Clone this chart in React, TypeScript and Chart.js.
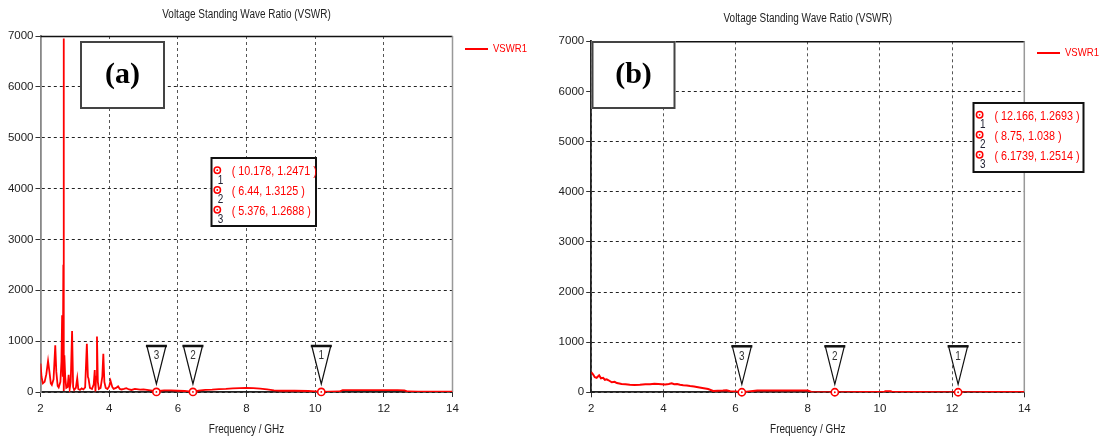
import React, { useEffect, useRef } from "react";
import { Chart, registerables } from "chart.js";

Chart.register(...registerables);

// ---------- data ----------
const TITLE = "Voltage Standing Wave Ratio (VSWR)";
const X_TITLE = "Frequency / GHz";
const SERIES = "VSWR1";
const xTicks = [2, 4, 6, 8, 10, 12, 14];
const yTicks = [0, 1000, 2000, 3000, 4000, 5000, 6000, 7000];

const freqA = [
  2.0, 2.03, 2.07, 2.12, 2.17, 2.22, 2.26, 2.3, 2.33, 2.38, 2.43, 2.46, 2.5, 2.53, 2.58, 2.61, 2.63, 2.65,
  2.665, 2.675, 2.68, 2.695, 2.72, 2.75, 2.79, 2.82, 2.85, 2.88, 2.92, 2.95, 2.98, 3.03, 3.07, 3.1, 3.15,
  3.2, 3.25, 3.3, 3.35, 3.38, 3.4, 3.44, 3.5, 3.55, 3.58, 3.6, 3.62, 3.645, 3.67, 3.7, 3.75, 3.8, 3.83,
  3.86, 3.9, 3.95, 4.0, 4.04, 4.09, 4.13, 4.2, 4.26, 4.31, 4.36, 4.43, 4.5, 4.58, 4.65, 4.75, 4.9, 5.0,
  5.1, 5.2, 5.3, 5.376, 5.45, 5.6, 5.8, 6.0, 6.2, 6.44, 6.6, 6.8, 7.0, 7.2, 7.4, 7.6, 7.8, 8.0, 8.2, 8.4,
  8.6, 8.8, 9.0, 9.4, 9.8, 10.0, 10.178, 10.4, 10.7, 10.8, 11.2, 11.6, 12.0, 12.4, 12.6, 12.7, 13.0, 13.5, 14.0,
];
const vswrA = [
  560, 300, 170, 200, 350, 610, 400, 170, 140, 250, 920, 400, 120, 90, 200, 600, 1510, 300,
  2500, 6950, 20, 720, 300, 80, 100, 340, 60, 200, 1200, 100, 40, 80, 270, 60, 40,
  70, 50, 90, 950, 300, 260, 80, 60, 150, 430, 10, 300, 1090, 200, 60, 80, 300, 750,
  200, 80, 60, 110, 220, 100, 60, 80, 110, 60, 50, 60, 75, 50, 40, 60, 45, 50,
  40, 30, 20, 1.2688, 20, 30, 30, 25, 20, 1.3125, 25, 40, 45, 55, 60, 70, 75, 80, 75, 65,
  50, 30, 25, 25, 20, 10, 1.2471, 8, 10, 35, 35, 35, 35, 35, 30, 10, 8, 8, 8,
];
const markerFreqA = [10.178, 6.44, 5.376];
const markerValA = [1.2471, 1.3125, 1.2688];

const freqB = [
  2.0, 2.05, 2.1, 2.15, 2.22, 2.27, 2.33, 2.38, 2.43, 2.48, 2.57, 2.65, 2.71, 2.78, 2.84, 2.95, 3.07, 3.2,
  3.35, 3.5, 3.63, 3.75, 3.86, 3.95, 4.05, 4.15, 4.23, 4.3, 4.38, 4.46, 4.55, 4.65, 4.74, 4.85, 5.0, 5.12,
  5.24, 5.38, 5.5, 5.65, 5.75, 5.85, 6.0, 6.1739, 6.3, 6.6, 7.0, 7.5, 8.0, 8.1, 8.75, 9.5, 10.1, 10.15,
  10.3, 10.35, 11.0, 12.166, 13.0, 14.0,
];
const vswrB = [
  400, 360, 300, 290, 340, 280, 290, 250, 260, 240, 200, 210, 185, 175, 165, 160, 150, 145,
  150, 160, 160, 170, 165, 160, 155, 165, 180, 160, 165, 150, 140, 135, 125, 115, 95, 80,
  65, 25, 30, 35, 40, 20, 15, 1.2514, 10, 35, 35, 35, 35, 8, 1.038, 5, 5, 20,
  20, 5, 5, 1.2693, 5, 5,
];
const markerFreqB = [12.166, 8.75, 6.1739];
const markerValB = [1.2693, 1.038, 1.2514];

// ---------- layout ----------
const H = 440;
const FONT = "'Liberation Sans', Arial, sans-serif";
const SX = 0.83; // horizontal condensing for overlay text (narrow UI font look)

type Cfg = {
  offsetX: number; width: number;
  left: number; top: number; right: number; bottom: number;
  freq: number[]; vswr: number[]; mf: number[]; mv: number[];
  tag: string; tagBox: number[];
  tableBox: number[]; rowY0: number; rowGap: number; circleX: number; textX: number;
  legendX: number; legendY: number; titleY: number;
  leftAxisColor: string; lineWidth: number;
};

const cfgA: Cfg = {
  offsetX: 0, width: 550,
  left: 40.5, top: 36, right: 452.5, bottom: 392,
  freq: freqA, vswr: vswrA, mf: markerFreqA, mv: markerValA,
  tag: "(a)", tagBox: [80, 41, 85, 68],
  tableBox: [210.5, 157, 106.5, 70], rowY0: 171.7, rowGap: 19.8, circleX: 217.3, textX: 231.7,
  legendX: 465, legendY: 49, titleY: 15,
  leftAxisColor: "#888", lineWidth: 1.8,
};

const cfgB: Cfg = {
  offsetX: 550, width: 557,
  left: 41.2, top: 41.3, right: 474.3, bottom: 392.3,
  freq: freqB, vswr: vswrB, mf: markerFreqB, mv: markerValB,
  tag: "(b)", tagBox: [41.5, 41, 84, 68],
  tableBox: [422.5, 102, 112, 71], rowY0: 116.3, rowGap: 20, circleX: 429.6, textX: 444.4,
  legendX: 487, legendY: 53, titleY: 19,
  leftAxisColor: "#222", lineWidth: 2,
};

function drawText(ctx: any, text: string, x: number, y: number, align: string, font: string, color: string) {
  ctx.save();
  ctx.font = font;
  ctx.fillStyle = color;
  ctx.textBaseline = "middle";
  ctx.textAlign = "left";
  const w = ctx.measureText(text).width * SX;
  const x0 = align === "center" ? x - w / 2 : align === "right" ? x - w : x;
  ctx.translate(x0, y);
  ctx.scale(SX, 1);
  ctx.fillText(text, 0, 0);
  ctx.restore();
}

function overlay(cfg: Cfg) {
  return {
    id: "overlay",
    beforeDatasetsDraw(chart: any) {
      const ctx = chart.ctx;
      const { left, top, right, bottom } = chart.chartArea;
      ctx.save();
      ctx.lineWidth = 1.5;
      ctx.strokeStyle = "#111";
      ctx.beginPath();
      ctx.moveTo(left, top + 0.5);
      ctx.lineTo(right, top + 0.5);
      ctx.stroke();
      ctx.strokeStyle = "#999";
      ctx.lineWidth = 1.5;
      ctx.beginPath();
      ctx.moveTo(right, top);
      ctx.lineTo(right, bottom);
      ctx.stroke();
      ctx.restore();
    },
    afterDraw(chart: any) {
      const ctx = chart.ctx;
      const { left, right, bottom } = chart.chartArea;
      const xs = chart.scales.x;
      const ys = chart.scales.y;
      ctx.save();
      // title and axis title
      drawText(ctx, TITLE, (left + right) / 2, cfg.titleY, "center", `12px ${FONT}`, "#222");
      drawText(ctx, X_TITLE, (left + right) / 2, 430, "center", `12px ${FONT}`, "#222");

      // legend
      ctx.strokeStyle = "#ff0000";
      ctx.lineWidth = 2;
      ctx.beginPath();
      ctx.moveTo(cfg.legendX, cfg.legendY);
      ctx.lineTo(cfg.legendX + 23, cfg.legendY);
      ctx.stroke();
      drawText(ctx, SERIES, cfg.legendX + 28, cfg.legendY, "left", `11.5px ${FONT}`, "#ff0000");

      // marker triangles + circles
      cfg.mf.forEach((f, i) => {
        const px = xs.getPixelForValue(f);
        const py = ys.getPixelForValue(cfg.mv[i]);
        const tTop = bottom - 46;
        const tTip = bottom - 8;
        ctx.fillStyle = "#fff";
        ctx.strokeStyle = "#111";
        ctx.lineWidth = 1.2;
        ctx.beginPath();
        ctx.moveTo(px - 9.5, tTop);
        ctx.lineTo(px + 9.5, tTop);
        ctx.lineTo(px, tTip);
        ctx.closePath();
        ctx.fill();
        ctx.stroke();
        ctx.lineWidth = 2.5;
        ctx.beginPath();
        ctx.moveTo(px - 10.5, tTop);
        ctx.lineTo(px + 10.5, tTop);
        ctx.stroke();
        drawText(ctx, String(i + 1), px, tTop + 10, "center", `12px ${FONT}`, "#333");

        ctx.fillStyle = "#fff";
        ctx.strokeStyle = "#ff0000";
        ctx.lineWidth = 1.6;
        ctx.beginPath();
        ctx.arc(px, py, 3.6, 0, Math.PI * 2);
        ctx.fill();
        ctx.stroke();
        ctx.fillStyle = "#ff0000";
        ctx.beginPath();
        ctx.arc(px, py, 0.9, 0, Math.PI * 2);
        ctx.fill();
      });

      // tag box
      const [bx, by, bw, bh] = cfg.tagBox;
      ctx.fillStyle = "#fff";
      ctx.fillRect(bx, by, bw, bh);
      ctx.strokeStyle = "#444";
      ctx.lineWidth = 2;
      ctx.strokeRect(bx + 1, by + 1, bw - 2, bh - 2);
      ctx.fillStyle = "#000";
      ctx.font = "bold 30px 'Liberation Serif', 'Times New Roman', serif";
      ctx.textAlign = "center";
      ctx.textBaseline = "middle";
      ctx.fillText(cfg.tag, bx + bw / 2, by + bh / 2);

      // marker table
      const [tx, ty, tw, th] = cfg.tableBox;
      ctx.fillStyle = "#fff";
      ctx.fillRect(tx, ty, tw, th);
      ctx.strokeStyle = "#111";
      ctx.lineWidth = 2;
      ctx.strokeRect(tx + 1, ty + 1, tw - 2, th - 2);
      cfg.mf.forEach((f, i) => {
        const ry = cfg.rowY0 + i * cfg.rowGap;
        ctx.strokeStyle = "#ff0000";
        ctx.lineWidth = 1.5;
        ctx.beginPath();
        ctx.arc(cfg.circleX, ry - 1.5, 3.2, 0, Math.PI * 2);
        ctx.stroke();
        ctx.fillStyle = "#ff0000";
        ctx.beginPath();
        ctx.arc(cfg.circleX, ry - 1.5, 0.9, 0, Math.PI * 2);
        ctx.fill();
        drawText(ctx, String(i + 1), cfg.circleX + 3.2, ry + 8.5, "center", `12px ${FONT}`, "#223");
        drawText(ctx, `( ${f}, ${cfg.mv[i]} )`, cfg.textX, ry, "left", `13px ${FONT}`, "#ff0000");
      });
      ctx.restore();
    },
  };
}

function Panel({ cfg }: { cfg: Cfg }) {
  const ref = useRef<HTMLCanvasElement>(null);
  useEffect(() => {
    const chart = new Chart(ref.current as HTMLCanvasElement, {
      type: "line",
      data: {
        datasets: [
          {
            label: SERIES,
            data: cfg.freq.map((f, i) => ({ x: f, y: cfg.vswr[i] })),
            borderColor: "#ff0000",
            borderWidth: cfg.lineWidth,
            pointRadius: 0,
            tension: 0,
            fill: false,
          },
        ],
      },
      options: {
        animation: false,
        responsive: false,
        maintainAspectRatio: false,
        events: [],
        layout: { padding: { left: 0, top: cfg.top, right: cfg.width - cfg.right, bottom: 0 } },
        plugins: { legend: { display: false }, title: { display: false }, tooltip: { enabled: false } },
        scales: {
          x: {
            type: "linear",
            min: 2,
            max: 14,
            afterBuildTicks: (s: any) => {
              s.ticks = xTicks.map((v) => ({ value: v }));
            },
            afterFit: (s: any) => {
              s.height = H - cfg.bottom;
            },
            grid: { color: "#555", lineWidth: 1, tickLength: 5, tickColor: "#333" },
            border: { display: true, color: "#222", width: 1.8, dash: [3, 3] },
            ticks: {
              color: "#222",
              font: { family: FONT, size: 11.5 },
              padding: 5,
              maxRotation: 0,
              callback: (v: any) => String(v),
            },
          },
          y: {
            type: "linear",
            min: 0,
            max: 7000,
            afterBuildTicks: (s: any) => {
              s.ticks = yTicks.map((v) => ({ value: v }));
            },
            afterFit: (s: any) => {
              s.width = cfg.left;
            },
            grid: { color: "#222", lineWidth: 1, tickLength: 5, tickColor: "#333" },
            border: { display: true, color: cfg.leftAxisColor, width: 1.8, dash: [3, 3] },
            ticks: {
              color: "#222",
              font: { family: FONT, size: 11.5 },
              padding: 2,
              callback: (v: any) => String(v),
            },
          },
        },
      } as any,
      plugins: [overlay(cfg)],
    });
    return () => chart.destroy();
  }, []);
  return (
    <canvas
      ref={ref}
      width={cfg.width}
      height={H}
      style={{ position: "absolute", left: cfg.offsetX, top: 0, width: cfg.width, height: H }}
    />
  );
}

export default function App() {
  return (
    <div style={{ position: "fixed", left: 0, top: 0, width: 1107, height: H, background: "#fff" }}>
      <Panel cfg={cfgA} />
      <Panel cfg={cfgB} />
    </div>
  );
}
